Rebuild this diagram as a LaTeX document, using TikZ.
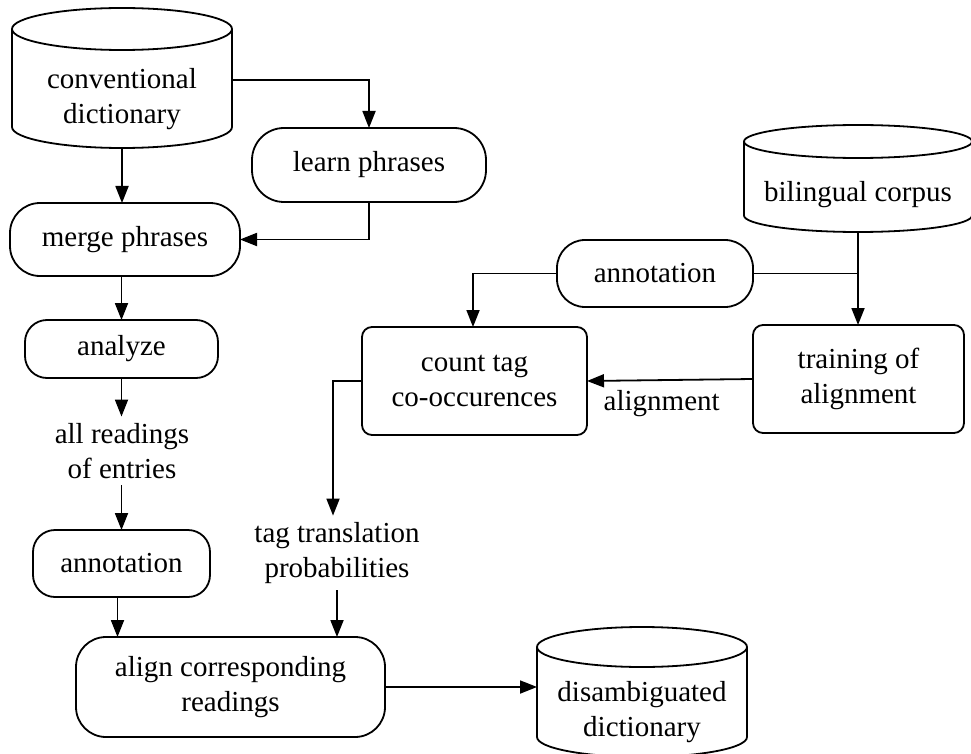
\documentclass[tikz,border=0pt]{standalone}
\usepackage{fontspec}
\setmainfont{Liberation Serif}
\usetikzlibrary{arrows.meta,calc}
\begin{document}
\begin{tikzpicture}[x=1pt,y=1pt,
  every node/.style={font=\fontsize{29}{34.5}\selectfont, align=center, outer sep=0pt, inner sep=0pt},
  ln/.style={line width=1.8pt},
  arr/.style={line width=1.8pt, -{Triangle[length=17pt,width=13pt]}},
  rbox/.style={draw, line width=1.8pt, rounded corners=#1},
  tnode/.style={inner ysep=7pt}]
\useasboundingbox (0,0) rectangle (971,-754);

% cylinders (text body nodes)
\node[minimum width=220, minimum height=98] (cd) at (122,-99) {conventional\\dictionary};
\draw[ln] ($(cd.north)+(0,21)$) ellipse [x radius=110, y radius=21];
\draw[ln] ([yshift=21pt]cd.north west) -- ([yshift=21pt]cd.south west)
  arc[start angle=180, end angle=360, x radius=110, y radius=21] -- ([yshift=21pt]cd.north east);

\node[minimum width=228, minimum height=74] (bc) at (858,-195) {bilingual corpus};
\draw[ln] ($(bc.north)+(0,16.5)$) ellipse [x radius=114, y radius=16.5];
\draw[ln] ([yshift=16.5pt]bc.north west) -- ([yshift=16.5pt]bc.south west)
  arc[start angle=180, end angle=360, x radius=114, y radius=16.5] -- ([yshift=16.5pt]bc.north east);

\node[minimum width=210, minimum height=90] (dd) at (642,-712) {disambiguated\\dictionary};
\draw[ln] ($(dd.north)+(0,20)$) ellipse [x radius=105, y radius=20];
\draw[ln] ([yshift=20pt]dd.north west) -- ([yshift=20pt]dd.south west)
  arc[start angle=180, end angle=360, x radius=105, y radius=20] -- ([yshift=20pt]dd.north east);

% process boxes
\node[rbox=32, minimum width=234, minimum height=74] (learn) at (369,-165) {learn phrases};
\node[rbox=30, minimum width=230, minimum height=73] (merge) at (125,-239.5) {merge phrases};
\node[rbox=22, minimum width=193, minimum height=58] (analyze) at (121.5,-349) {analyze};
\node[tnode] (readings) at (122,-451) {all readings\\of entries};
\node[rbox=22, minimum width=177, minimum height=67] (annotL) at (121.5,-563.5) {annotation};
\node[rbox=30, minimum width=309, minimum height=100] (align) at (230.5,-687) {align corresponding\\readings};
\node[tnode] (ttp) at (337,-553) {tag translation\\probabilities};
\node[rbox=10, minimum width=225, minimum height=108] (count) at (474.5,-381) {count tag\\co-occurences};
\node[rbox=28, minimum width=196, minimum height=67] (annotR) at (655,-273.5) {annotation};
\node[rbox=10, minimum width=211, minimum height=108] (train) at (858.5,-379) {training of\\alignment};

% connectors
\draw[arr] ([yshift=19pt]cd.east) -| (learn.north);
\draw[arr] (cd.south) -- (cd.south |- merge.north);
\draw[arr] (learn.south) |- (merge.east);
\draw[arr] (analyze.north |- merge.south) -- (analyze.north);
\draw[arr] (analyze.south) -- (analyze.south |- readings.north);
\draw[arr] (annotL.north |- readings.south) -- (annotL.north);
\draw[arr] ([xshift=-4pt]annotL.south) -- ([xshift=-4pt]annotL.south |- align.north);
\draw[arr] (count.west) -| ([xshift=-4pt]ttp.north);
\draw[arr] (ttp.south) -- (ttp.south |- align.north);
\draw[arr] (align.east) -- (align.east -| dd.west);
\draw[arr] (bc.south) -- (bc.south |- train.north);
\draw[ln] (annotR.east) -- (annotR.east -| bc.south);
\draw[arr] (annotR.west) -| ([xshift=-1.5pt]count.north);
\draw[arr] (train.west) -- node[pos=0.55, anchor=north, yshift=-10pt] {alignment} (count.east);
\end{tikzpicture}
\end{document}
